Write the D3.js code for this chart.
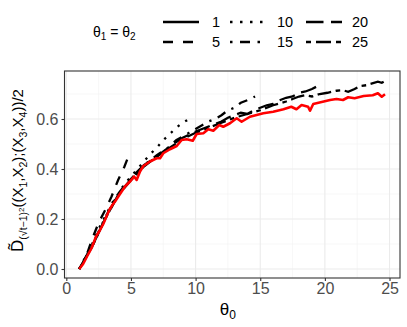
<!DOCTYPE html>
<html><head><meta charset="utf-8">
<script src="https://cdn.jsdelivr.net/npm/d3@7"></script>
<style>
body{margin:0;background:#fff;}
svg{display:block;font-family:"Liberation Sans",Arial,sans-serif;}
</style></head>
<body>
<svg id="c" width="407" height="327"></svg>
<script>
// ---- data ----
const legendLabels = ["1","5","10","15","20","25"];
const dashPatterns = [null,[4,4],[1,3],[1,3,4,3],[7,3],[2,2,6,2]]; // ggplot lty units
const xTicks = [0,5,10,15,20,25];
const yTicks = [0,0.2,0.4,0.6];

const theta1 = [1,1.3,1.6,1.96,2.3,2.6,2.86,3.1,3.33,3.55,3.77,4.15,4.54,4.98,5.24,5.44,5.7,5.96,6.47,6.99,7.25,7.5,8.02,8.54,8.92,9.31,9.78,10.08,10.6,10.98,11.37,11.83,12.14,12.66,13.18,13.56,14.2,14.72,15.24,16.0,16.8,17.4,17.8,18.2,18.7,18.85,19.1,19.75,20.4,20.9,21.4,21.8,22.3,23.0,23.7,24.1,24.4,24.65];
const value1 = [0,0.02,0.05,0.084,0.13,0.155,0.18,0.21,0.236,0.255,0.27,0.30,0.33,0.353,0.37,0.356,0.39,0.412,0.43,0.443,0.443,0.463,0.479,0.492,0.516,0.519,0.513,0.54,0.543,0.559,0.553,0.576,0.569,0.583,0.603,0.589,0.609,0.616,0.623,0.629,0.639,0.649,0.639,0.656,0.649,0.633,0.66,0.668,0.676,0.68,0.676,0.687,0.683,0.692,0.695,0.703,0.689,0.699];

const theta5 = [1,1.5,2,2.5,3,3.5,4,4.5,4.8];
const value5 = [0,0.045,0.12,0.185,0.235,0.29,0.355,0.41,0.45];

const theta10 = [1,1.5,2,2.5,3,3.5,4,4.5,5,5.5,6,6.5,7,7.5,8,8.5,9,9.5,9.7];
const value10 = [0,0.05,0.1,0.16,0.21,0.26,0.3,0.34,0.37,0.4,0.43,0.46,0.485,0.515,0.54,0.565,0.585,0.6,0.615];

const theta15 = [1,2,3,4,5,6,7,8,8.5,9,9.5,10,10.5,11,11.5,12,12.5,13,13.5,14,14.6];
const value15 = [0,0.095,0.205,0.3,0.365,0.415,0.455,0.49,0.515,0.53,0.545,0.56,0.575,0.59,0.6,0.615,0.635,0.645,0.665,0.675,0.69];

const theta20 = [1,2,3,4,5,6,7,8,9,10,11,12,12.5,13,13.5,14,14.5,15,15.5,16,16.5,17,17.5,18,18.5,19,19.6];
const value20 = [0,0.09,0.2,0.295,0.36,0.415,0.45,0.49,0.525,0.55,0.57,0.59,0.605,0.615,0.625,0.62,0.635,0.645,0.655,0.66,0.675,0.685,0.69,0.705,0.71,0.72,0.736];

const theta25 = [1,2,3,4,5,6,7,8,9,10,11,12,13,14,15,16,17,17.5,18,18.5,19,19.6,20.2,20.9,21.4,21.8,22.3,22.7,23.2,23.5,24.1,24.4,24.65];
const value25 = [0,0.09,0.2,0.295,0.355,0.41,0.45,0.485,0.52,0.545,0.565,0.585,0.605,0.62,0.635,0.655,0.67,0.68,0.69,0.695,0.69,0.70,0.705,0.713,0.715,0.709,0.72,0.732,0.735,0.74,0.749,0.745,0.752];

const blackSeries = [
  {label:"5", th:theta5, v:value5, dash:dashPatterns[1]},
  {label:"10", th:theta10, v:value10, dash:dashPatterns[2]},
  {label:"15", th:theta15, v:value15, dash:dashPatterns[3]},
  {label:"20", th:theta20, v:value20, dash:dashPatterns[4]},
  {label:"25", th:theta25, v:value25, dash:dashPatterns[5]}
];

// ---- layout ----
const svg = d3.select("#c");
const P = {l:64.5, r:400, t:71, b:278};
const x = d3.scaleLinear().domain([-0.14,25.81]).range([P.l,P.r]);
const y = d3.scaleLinear().domain([-0.036,0.792]).range([P.b,P.t]);
const lwd = 2.3;

// grid
const g = svg.append("g");
const xMinor = [2.5,7.5,12.5,17.5,22.5];
const yMinor = [0.1,0.3,0.5,0.7];
g.selectAll(".xm").data(xMinor).join("line").attr("x1",d=>x(d)).attr("x2",d=>x(d)).attr("y1",P.t).attr("y2",P.b).attr("stroke","#F2F2F2").attr("stroke-width",0.6);
g.selectAll(".ym").data(yMinor).join("line").attr("y1",d=>y(d)).attr("y2",d=>y(d)).attr("x1",P.l).attr("x2",P.r).attr("stroke","#F2F2F2").attr("stroke-width",0.6);
g.selectAll(".xM").data(xTicks).join("line").attr("x1",d=>x(d)).attr("x2",d=>x(d)).attr("y1",P.t).attr("y2",P.b).attr("stroke","#EBEBEB").attr("stroke-width",1.1);
g.selectAll(".yM").data(yTicks).join("line").attr("y1",d=>y(d)).attr("y2",d=>y(d)).attr("x1",P.l).attr("x2",P.r).attr("stroke","#EBEBEB").attr("stroke-width",1.1);

// lines
const line = d3.line().x(d=>x(d[0])).y(d=>y(d[1]));
blackSeries.forEach(s=>{
  const pts = s.th.map((t,i)=>[t,s.v[i]]);
  svg.append("path").attr("d",line(pts)).attr("fill","none").attr("stroke","#000")
    .attr("stroke-width",lwd).attr("stroke-dasharray",s.dash.map(k=>k*lwd).join(","));
});
svg.append("path").attr("d",line(theta1.map((t,i)=>[t,value1[i]]))).attr("fill","none")
  .attr("stroke","#FF0000").attr("stroke-width",2.6).attr("stroke-linejoin","round");

// panel border
svg.append("rect").attr("x",P.l).attr("y",P.t).attr("width",P.r-P.l).attr("height",P.b-P.t)
  .attr("fill","none").attr("stroke","#333333").attr("stroke-width",1.1);

// axes
const xa = svg.append("g").attr("transform",`translate(0,${P.b})`)
  .call(d3.axisBottom(x).tickValues(xTicks).tickSize(3).tickPadding(2).tickFormat(d3.format("d")));
const ya = svg.append("g").attr("transform",`translate(${P.l},0)`)
  .call(d3.axisLeft(y).tickValues(yTicks).tickSize(3).tickPadding(3).tickFormat(d3.format(".1f")));
[xa,ya].forEach(a=>{
  a.select(".domain").remove();
  a.selectAll(".tick line").attr("stroke","#333").attr("stroke-width",1.1);
  a.selectAll(".tick text").attr("fill","#4D4D4D").style("font-size","16px").style("font-family","Liberation Sans, Arial, sans-serif");
});

// x title
const xt = svg.append("text").attr("x",x(12.5)).attr("y",315).attr("text-anchor","middle")
  .style("font-size","17px").attr("fill","#000");
xt.append("tspan").text("θ");
xt.append("tspan").attr("dy",4).style("font-size","12px").text("0");

// y title
const yt = svg.append("text").attr("transform",`translate(23,${(P.t+P.b)/2 - 4}) rotate(-90)`)
  .attr("text-anchor","middle").style("font-size","15px").attr("fill","#000");
yt.append("tspan").style("font-size","17px").text("D\u0303");
yt.append("tspan").attr("dy",4).style("font-size","10.5px").text("(\u221At\u22121)");
yt.append("tspan").attr("dy",-3).style("font-size","8px").text("2");
yt.append("tspan").attr("dy",-1).text("((X");
yt.append("tspan").attr("dy",4).style("font-size","10.5px").text("1");
yt.append("tspan").attr("dy",-4).text(",X");
yt.append("tspan").attr("dy",4).style("font-size","10.5px").text("2");
yt.append("tspan").attr("dy",-4).text(");(X");
yt.append("tspan").attr("dy",4).style("font-size","10.5px").text("3");
yt.append("tspan").attr("dy",-4).text(",X");
yt.append("tspan").attr("dy",4).style("font-size","10.5px").text("4");
yt.append("tspan").attr("dy",-4).text("))/2");

// legend
const lt = svg.append("text").attr("x",93).attr("y",37).style("font-size","14px").attr("fill","#000");
lt.append("tspan").text("θ");
lt.append("tspan").attr("dy",3).style("font-size","10px").text("1");
lt.append("tspan").attr("dy",-3).text(" = θ");
lt.append("tspan").attr("dy",3).style("font-size","10px").text("2");

const colX = [163,230,306];
const labX = [212,277,352];
const rowY = [22,42];
legendLabels.forEach((lab,i)=>{
  const col = Math.floor(i/2), row = i%2;
  const k = svg.append("line").attr("x1",colX[col]).attr("x2",colX[col]+36)
    .attr("y1",rowY[row]).attr("y2",rowY[row]).attr("stroke","#000").attr("stroke-width",lwd+0.2);
  if (dashPatterns[i]) k.attr("stroke-dasharray",dashPatterns[i].map(v=>v*(lwd+0.2)).join(","));
  svg.append("text").attr("x",labX[col]).attr("y",rowY[row]+5).style("font-size","14.5px").attr("fill","#000").text(lab);
});
</script>
</body></html>
